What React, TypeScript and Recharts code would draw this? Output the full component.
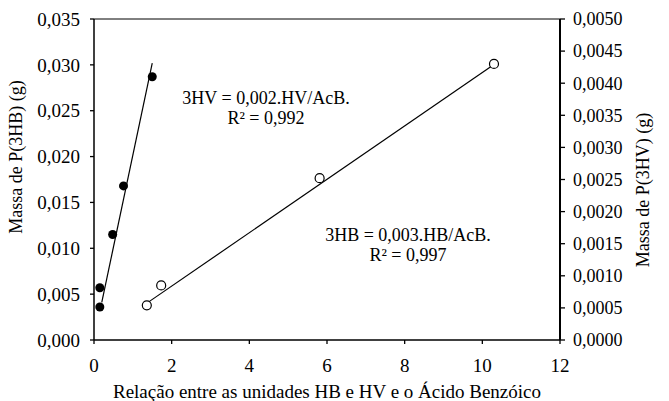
import React from 'react';
import {
  ComposedChart,
  Scatter,
  XAxis,
  YAxis,
  ReferenceLine,
} from 'recharts';

// Filled points: P(3HB) mass (left axis)
const hbRatio = [0.15, 0.15, 0.48, 0.76, 1.5];
const hbMass = [0.0036, 0.0057, 0.0115, 0.0168, 0.0287];

// Open points: P(3HV) mass (right axis)
const hvRatio = [1.36, 1.73, 5.81, 10.3];
const hvMass = [0.00054, 0.00085, 0.00252, 0.0043];

// Linear fit end points
const hbFitX = [0.2, 1.5];
const hbFitY = [0.0041, 0.0302];
const hvFitX = [1.4, 10.3];
const hvFitY = [0.00059, 0.00429];

const xTicks = [0, 2, 4, 6, 8, 10, 12];
const leftTicks = [0, 0.005, 0.01, 0.015, 0.02, 0.025, 0.03, 0.035];
const rightTicks = [0, 0.0005, 0.001, 0.0015, 0.002, 0.0025, 0.003, 0.0035, 0.004, 0.0045, 0.005];

const hbEquation = ['3HV = 0,002.HV/AcB.', 'R² = 0,992'];
const hvEquation = ['3HB = 0,003.HB/AcB.', 'R² = 0,997'];

const xLabel = 'Relação entre as unidades HB e HV e o Ácido Benzóico';
const leftLabel = 'Massa de P(3HB) (g)';
const rightLabel = 'Massa de P(3HV) (g)';

const FONT = '"Liberation Serif", "Times New Roman", serif';

const hbData = hbRatio.map((x, i) => ({ x, y: hbMass[i] }));
const hvData = hvRatio.map((x, i) => ({ x, y: hvMass[i] }));

const comma = (digits: number) => (v: number) => v.toFixed(digits).replace('.', ',');

const tickStyle19 = { fill: '#000', fontFamily: FONT, fontSize: 19 };
const tickStyle18 = { fill: '#000', fontFamily: FONT, fontSize: 18 };

const FilledDot = (p: any) => <circle cx={p.cx} cy={p.cy} r={4.5} fill="#000" />;
const OpenDot = (p: any) => (
  <circle cx={p.cx} cy={p.cy} r={4.5} fill="#fff" stroke="#000" strokeWidth={1.2} />
);

const textStyle: React.CSSProperties = {
  position: 'absolute',
  transform: 'translate(-50%, -50%)',
  whiteSpace: 'nowrap',
  fontFamily: FONT,
  fontSize: 18,
  color: '#000',
  textAlign: 'center',
  lineHeight: '20px',
};

const RotatedLabel = ({ cx, cy, text }: { cx: number; cy: number; text: string }) => (
  <text
    x={cx}
    y={cy}
    transform={`rotate(-90, ${cx}, ${cy})`}
    textAnchor="middle"
    dominantBaseline="central"
    fontFamily={FONT}
    fontSize={18}
    fill="#000"
  >
    {text}
  </text>
);

export default function App() {
  return (
    <div style={{ position: 'absolute', left: 0, top: 0, width: 669, height: 401, background: '#fff' }}>
      <ComposedChart
        width={669}
        height={401}
        margin={{ top: 19, right: 0, bottom: 0, left: 0 }}
        style={{ fontFamily: FONT }}
      >
        <XAxis
          type="number"
          dataKey="x"
          domain={[0, 12]}
          ticks={xTicks}
          height={61}
          tickSize={4}
          tickMargin={15}
          tick={tickStyle19}
          axisLine={{ stroke: '#000', strokeWidth: 1.3 }}
          tickLine={{ stroke: '#000', strokeWidth: 1.3 }}
          label={(props: any) => {
            const vb = props.viewBox;
            return (
              <text
                x={vb.x + vb.width / 2}
                y={398}
                textAnchor="middle"
                fontFamily={FONT}
                fontSize={19}
                fill="#000"
              >
                {xLabel}
              </text>
            );
          }}
        />
        <YAxis
          yAxisId="left"
          type="number"
          dataKey="y"
          domain={[0, 0.035]}
          ticks={leftTicks}
          width={94}
          tickSize={4}
          tickMargin={10}
          tickFormatter={comma(3)}
          tick={tickStyle19}
          axisLine={{ stroke: '#000', strokeWidth: 1.5 }}
          tickLine={{ stroke: '#000', strokeWidth: 1.3 }}
          label={() => <RotatedLabel cx={16} cy={157} text={leftLabel} />}
        />
        <YAxis
          yAxisId="right"
          orientation="right"
          type="number"
          dataKey="y"
          domain={[0, 0.005]}
          ticks={rightTicks}
          width={109}
          tickSize={5}
          tickMargin={8}
          tickFormatter={comma(4)}
          tick={tickStyle18}
          axisLine={{ stroke: '#000', strokeWidth: 2 }}
          tickLine={{ stroke: '#000', strokeWidth: 1.3 }}
          label={() => <RotatedLabel cx={643} cy={190} text={rightLabel} />}
        />
        {/* top border of the plot frame */}
        <ReferenceLine yAxisId="left" y={0.035} stroke="#000" strokeWidth={1} />
        <ReferenceLine
          yAxisId="left"
          segment={[
            { x: hbFitX[0], y: hbFitY[0] },
            { x: hbFitX[1], y: hbFitY[1] },
          ]}
          stroke="#000"
          strokeWidth={1.2}
        />
        <ReferenceLine
          yAxisId="right"
          segment={[
            { x: hvFitX[0], y: hvFitY[0] },
            { x: hvFitX[1], y: hvFitY[1] },
          ]}
          stroke="#000"
          strokeWidth={1.2}
        />
        <Scatter yAxisId="left" data={hbData} shape={FilledDot} isAnimationActive={false} />
        <Scatter yAxisId="right" data={hvData} shape={OpenDot} isAnimationActive={false} />
      </ComposedChart>
      <div style={{ ...textStyle, left: 266, top: 108 }}>
        {hbEquation[0]}
        <br />
        {hbEquation[1]}
      </div>
      <div style={{ ...textStyle, left: 408, top: 245 }}>
        {hvEquation[0]}
        <br />
        {hvEquation[1]}
      </div>
    </div>
  );
}
